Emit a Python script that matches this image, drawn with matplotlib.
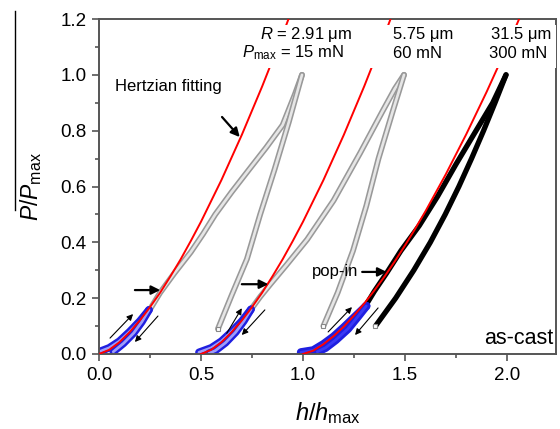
import matplotlib
matplotlib.use('Agg')
import matplotlib.pyplot as plt
from matplotlib.patches import Rectangle
from matplotlib.lines import Line2D
from matplotlib.ticker import MultipleLocator

plt.rcParams['font.family'] = ['Liberation Sans', 'DejaVu Sans']
plt.rcParams['mathtext.fontset'] = 'custom'
plt.rcParams['mathtext.rm'] = 'Liberation Sans'
plt.rcParams['mathtext.it'] = 'Liberation Sans:italic'
plt.rcParams['mathtext.bf'] = 'Liberation Sans:bold'

# ---------------- data ----------------
# Hertzian fits (red)
hertz1_h = [0.00, 0.05, 0.10, 0.15, 0.20, 0.25, 0.30, 0.35, 0.40, 0.45, 0.50, 0.60, 0.70, 0.80, 0.90, 0.96]
hertz1_P = [0.000, 0.015, 0.042, 0.078, 0.120, 0.168, 0.220, 0.278, 0.339, 0.405, 0.474, 0.623, 0.785, 0.959, 1.144, 1.260]
hertz2_h = [0.50, 0.55, 0.60, 0.65, 0.70, 0.75, 0.80, 0.85, 0.90, 0.95, 1.00, 1.10, 1.20, 1.30, 1.40, 1.46]
hertz2_P = [0.000, 0.015, 0.042, 0.078, 0.120, 0.168, 0.220, 0.278, 0.339, 0.405, 0.474, 0.623, 0.785, 0.959, 1.144, 1.260]
hertz3_h = [1.00, 1.05, 1.10, 1.15, 1.20, 1.25, 1.30, 1.35, 1.40, 1.45, 1.50, 1.55, 1.60, 1.70, 1.80, 1.90, 2.00, 2.08]
hertz3_P = [0.000, 0.012, 0.035, 0.064, 0.098, 0.138, 0.181, 0.228, 0.278, 0.332, 0.389, 0.449, 0.511, 0.644, 0.787, 0.939, 1.100, 1.235]

# cyclic low-load segments (blue)
blue1_load_h = [0.00, 0.05, 0.10, 0.15, 0.20, 0.245]
blue1_load_P = [0.008, 0.022, 0.046, 0.080, 0.118, 0.158]
blue1_unld_h = [0.245, 0.21, 0.17, 0.12, 0.07]
blue1_unld_P = [0.158, 0.115, 0.075, 0.038, 0.008]
blue2_load_h = [0.49, 0.55, 0.60, 0.65, 0.70, 0.745]
blue2_load_P = [0.006, 0.022, 0.046, 0.080, 0.118, 0.160]
blue2_unld_h = [0.745, 0.71, 0.67, 0.62, 0.57, 0.54]
blue2_unld_P = [0.160, 0.118, 0.078, 0.040, 0.012, 0.003]
blue3_load_h = [0.99, 1.05, 1.10, 1.15, 1.20, 1.25, 1.31]
blue3_load_P = [0.006, 0.013, 0.035, 0.062, 0.095, 0.130, 0.172]
blue3_unld_h = [1.31, 1.27, 1.22, 1.16, 1.11, 1.07]
blue3_unld_P = [0.172, 0.135, 0.090, 0.050, 0.022, 0.008]

# full load-unload curves (gray: 15 mN and 60 mN; black: 300 mN)
gray1_load_h = [0.25, 0.30, 0.37, 0.45, 0.51, 0.57, 0.65, 0.74, 0.82, 0.90, 0.96, 0.995]
gray1_load_P = [0.16, 0.22, 0.29, 0.365, 0.43, 0.50, 0.58, 0.665, 0.74, 0.82, 0.93, 1.00]
gray1_unld_h = [0.995, 0.93, 0.86, 0.79, 0.725, 0.65, 0.583]
gray1_unld_P = [1.00, 0.83, 0.66, 0.50, 0.34, 0.21, 0.09]
gray2_load_h = [0.745, 0.79, 0.84, 0.92, 1.02, 1.15, 1.28, 1.39, 1.45, 1.495]
gray2_load_P = [0.16, 0.205, 0.25, 0.32, 0.41, 0.55, 0.72, 0.87, 0.95, 1.00]
gray2_unld_h = [1.495, 1.44, 1.37, 1.31, 1.245, 1.17, 1.10]
gray2_unld_P = [1.00, 0.87, 0.70, 0.53, 0.37, 0.22, 0.10]
black_load_h = [1.30, 1.35, 1.41, 1.48, 1.57, 1.66, 1.75, 1.84, 1.93, 1.995]
black_load_P = [0.165, 0.225, 0.29, 0.37, 0.46, 0.565, 0.68, 0.79, 0.90, 1.00]
black_unld_h = [1.995, 1.941, 1.885, 1.826, 1.764, 1.697, 1.624, 1.543, 1.454, 1.355]
black_unld_P = [1.00, 0.90, 0.80, 0.70, 0.60, 0.50, 0.40, 0.30, 0.20, 0.10]

x_ticks = [0.0, 0.5, 1.0, 1.5, 2.0]
x_ticklabels = ['0.0', '0.5', '1.0', '1.5', '2.0']
y_ticks = [0.0, 0.2, 0.4, 0.6, 0.8, 1.0, 1.2]
y_ticklabels = ['0.0', '0.2', '0.4', '0.6', '0.8', '1.0', '1.2']

label_R = ['2.91 μm', '5.75 μm', '31.5 μm']
label_Pmax = ['15 mN', '60 mN', '300 mN']

# ---------------- figure ----------------
fig = plt.figure(figsize=(5.6, 4.29), dpi=100)
ax = fig.add_axes([99 / 560, 75 / 429, 457 / 560, 335 / 429])
ax.set_xlim(0, 2.24)
ax.set_ylim(0, 1.2)

BLUE = '#1f1fe0'


def tube(h, P, outer, inner, wo, wi, z=2):
    ax.plot(h, P, color=outer, lw=wo, solid_capstyle='round', solid_joinstyle='round', zorder=z)
    ax.plot(h, P, color=inner, lw=wi, solid_capstyle='round', solid_joinstyle='round', zorder=z)


# gray loops
for hl, pl in [(gray1_load_h, gray1_load_P), (gray1_unld_h, gray1_unld_P),
               (gray2_load_h, gray2_load_P), (gray2_unld_h, gray2_unld_P)]:
    tube(hl, pl, '#999999', '#e6e6e6', 4.2, 1.9)

# black loop
for hl, pl in [(black_load_h, black_load_P), (black_unld_h, black_unld_P)]:
    ax.plot(hl, pl, color='black', lw=3.8, solid_capstyle='round', solid_joinstyle='round', zorder=2)
for hl, pl in [(black_unld_h, black_unld_P), (gray1_unld_h, gray1_unld_P), (gray2_unld_h, gray2_unld_P)]:
    ax.plot(hl[-1:], pl[-1:], 's', ms=3.5, mfc='white', mec='#888888', mew=0.8, zorder=2)

# blue cyclic segments
for hl, pl in [(blue1_load_h, blue1_load_P), (blue1_unld_h, blue1_unld_P),
               (blue2_load_h, blue2_load_P), (blue2_unld_h, blue2_unld_P)]:
    tube(hl, pl, BLUE, '#9d9dfa', 5.5, 2.0, z=2.2)
for hl, pl in [(blue3_load_h, blue3_load_P), (blue3_unld_h, blue3_unld_P)]:
    tube(hl, pl, BLUE, '#3a3af5', 6.0, 2.0, z=2.2)

# Hertzian fits
for hl, pl in [(hertz1_h, hertz1_P), (hertz2_h, hertz2_P), (hertz3_h, hertz3_P)]:
    ax.plot(hl, pl, color='#ff0000', lw=1.4, zorder=3)

# white label boxes covering the fits
for x0, x1 in [(0.69, 1.24), (1.32, 1.78), (1.89, 2.24)]:
    ax.add_patch(Rectangle((x0, 1.025), x1 - x0, 0.155, facecolor='white',
                           edgecolor='none', zorder=4))

fs = 12
ax.text(0.79, 1.143, r'$R$ = ' + label_R[0], fontsize=fs, ha='left', va='center', zorder=5)
ax.text(0.70, 1.078, r'$P_{\rm max}$ = ' + label_Pmax[0], fontsize=fs, ha='left', va='center', zorder=5)
ax.text(1.44, 1.143, label_R[1], fontsize=fs, ha='left', va='center', zorder=5)
ax.text(1.44, 1.078, label_Pmax[1], fontsize=fs, ha='left', va='center', zorder=5)
ax.text(1.92, 1.143, label_R[2], fontsize=fs, ha='left', va='center', zorder=5)
ax.text(1.91, 1.078, label_Pmax[2], fontsize=fs, ha='left', va='center', zorder=5)

ax.text(0.08, 0.96, 'Hertzian fitting', fontsize=fs, ha='left', va='center', zorder=5)
ax.text(1.27, 0.294, 'pop-in', fontsize=fs, ha='right', va='center', zorder=5)
ax.text(2.225, 0.054, 'as-cast', fontsize=15.5, ha='right', va='center', zorder=5)

# arrows
big = dict(arrowstyle='-|>', color='black', lw=1.6, mutation_scale=13, shrinkA=0, shrinkB=0)
small = dict(arrowstyle='-|>', color='black', lw=0.8, mutation_scale=9, shrinkA=0, shrinkB=0)
for tail, head in [((0.603, 0.849), (0.69, 0.777)),
                   ((0.176, 0.229), (0.30, 0.229)),
                   ((0.70, 0.25), (0.83, 0.25)),
                   ((1.29, 0.294), (1.41, 0.294))]:
    ax.annotate('', xy=head, xytext=tail, arrowprops=big, zorder=6)
for tail, head in [((0.054, 0.057), (0.167, 0.143)),
                   ((0.289, 0.136), (0.176, 0.043)),
                   ((0.626, 0.074), (0.70, 0.164)),
                   ((0.813, 0.158), (0.70, 0.068)),
                   ((1.123, 0.079), (1.24, 0.168)),
                   ((1.368, 0.165), (1.255, 0.068))]:
    ax.annotate('', xy=head, xytext=tail, arrowprops=small, zorder=6)

# axes styling
spine_c = '#555555'
for s in ax.spines.values():
    s.set_color(spine_c)
    s.set_linewidth(1.4)
ax.set_xticks(x_ticks)
ax.set_xticklabels(x_ticklabels)
ax.set_yticks(y_ticks)
ax.set_yticklabels(y_ticklabels)
ax.xaxis.set_minor_locator(MultipleLocator(0.25))
ax.yaxis.set_minor_locator(MultipleLocator(0.1))
ax.tick_params(which='major', direction='out', length=5, width=1.2, color=spine_c,
               labelsize=13.5, top=False, right=False, pad=4)
ax.tick_params(which='minor', direction='out', length=3, width=1.2, color=spine_c,
               top=False, right=False)

ax.set_xlabel(r'$h$/$h_{\rm max}$', fontsize=17, labelpad=12)
ax.set_ylabel(r'$P$/$P_{\rm max}$', fontsize=16.5, labelpad=12)

# vertical rule at left edge of the image
fig.add_artist(Line2D([15 / 560, 15 / 560], [1 - 11 / 429, 1 - 210 / 429],
                      color='black', lw=1.0, transform=fig.transFigure))

fig.savefig('out.png', dpi=100)
